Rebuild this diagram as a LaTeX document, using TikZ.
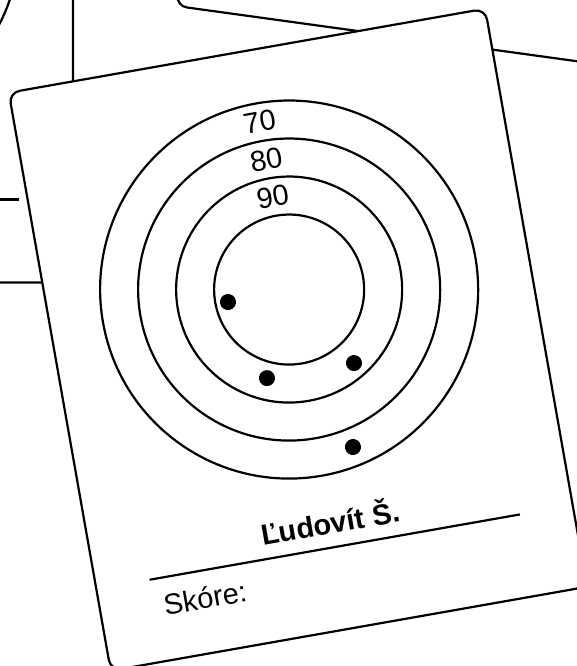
\documentclass[tikz,border=0pt]{standalone}
\usepackage{fontspec}
\setmainfont{Liberation Sans}
\tikzset{
  cardbox/.style={draw, fill=white, line width=2.2pt, rounded corners=11pt},
  ring/.style={draw, line width=2.2pt},
  hit/.style={circle, fill=black, draw=none, inner sep=0pt, minimum size=16pt},
  ringlabel/.style={font=\fontsize{29}{34}\selectfont, inner sep=0pt},
  namelabel/.style={font=\fontsize{29}{34}\selectfont\bfseries, inner sep=0pt},
  scorelabel/.style={font=\fontsize{29}{34}\selectfont, inner sep=0pt},
  signline/.style={line width=2.2pt},
}
% outline, rings and signature line of one target card (local coordinates)
\newcommand\cardframe[1]{%
  \path[cardbox] (0,0) rectangle (483.7,587);
  \coordinate (#1-ctr) at (241.85,242.5);
  \draw[ring] (#1-ctr) circle[radius=189pt];
  \draw[ring] (#1-ctr) circle[radius=151pt];
  \draw[ring] (#1-ctr) circle[radius=113pt];
  \draw[ring] (#1-ctr) circle[radius=75pt];
  \coordinate (#1-sa) at (54,504);
  \coordinate (#1-sb) at (430,504);
  \draw[signline] (#1-sa) -- (#1-sb);
}
\begin{document}
\begin{tikzpicture}[x=1pt,y=-1pt]
\useasboundingbox (0,0) rectangle (577,666);
\clip (0,0) rectangle (577,666);
\fill[white] (0,0) rectangle (577,666);
% card behind, left
\begin{scope}[shift={(-410.7,-304.5)}, transform shape]
  \cardframe{left}
\end{scope}
% card behind, top right
\begin{scope}[shift={(256.2,-575.5)}, rotate=-7.85, transform shape]
  \cardframe{top}
\end{scope}
% front card
\begin{scope}[shift={(8.8,92.7)}, rotate=10, transform shape]
  \cardframe{main}
  \node[ringlabel] (l70) at (241.85,72.5) {70};
  \node[ringlabel] (l80) at (241.85,110.5) {80};
  \node[ringlabel] (l90) at (241.85,148.5) {90};
  \node[hit] (h1) at (179.5,244.2) {};
  \node[hit] (h2) at (204.7,325.9) {};
  \node[hit] (h3) at (293,326.2) {};
  \node[hit] (h4) at (277.4,408.7) {};
  \node[namelabel, anchor=base] (name) at (241.85,490.5) {Ľudovít Š.};
  \node[scorelabel, anchor=base west] (score) at (63.5,542) {Skóre:};
\end{scope}
\end{tikzpicture}
\end{document}
